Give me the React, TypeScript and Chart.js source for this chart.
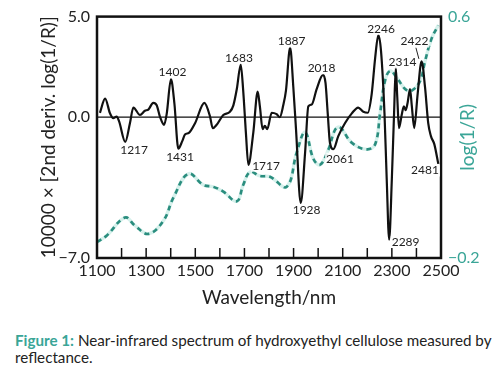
import { useEffect, useRef } from 'react';
import { Chart, registerables } from 'chart.js';
Chart.register(...registerables);

// 2nd derivative spectrum (left axis, ×10000)
const derivNm = [1112, 1133, 1153, 1166, 1180, 1190, 1215, 1234, 1248, 1275, 1295, 1309, 1329, 1343, 1356, 1373, 1384, 1401, 1415, 1431, 1447, 1458, 1474, 1499, 1537, 1560, 1571, 1587, 1614, 1641, 1655, 1669, 1685, 1695, 1706, 1716, 1736, 1754, 1763, 1774, 1783, 1793, 1811, 1831, 1844, 1858, 1869, 1886, 1899, 1910, 1929, 1947, 1960, 1974, 1994, 2020, 2030, 2039, 2048, 2062, 2082, 2109, 2137, 2163, 2184, 2202, 2218, 2232, 2245, 2256, 2270, 2279, 2289, 2300, 2309, 2316, 2322, 2329, 2340, 2349, 2356, 2364, 2374, 2381, 2391, 2405, 2421, 2435, 2448, 2459, 2473, 2489];
const derivVal = [0.22, 0.92, 0.19, -0.05, 0.03, -0.21, -1.23, -0.3, 0.48, 0.11, 0.32, 0.38, 0.71, 0.59, 0.03, -0.38, 0.19, 1.89, 0.68, -1.56, -1.19, -0.86, -0.78, -0.3, 0.71, 0.03, -0.55, -0.38, 0.11, 0.27, 0.59, 1.4, 2.62, 1.32, -0.78, -2.37, -0.78, 1.27, 0.52, -0.59, -0.43, -0.59, 0.22, 0.15, 0.0, 0.59, 1.32, 3.46, 1.49, -0.62, -4.27, -1.75, 0.54, 0.63, 1.4, 2.1, 1.7, 0.19, -1.27, -1.59, -0.94, -0.3, 0.19, 0.48, 0.27, 0.22, 1.16, 2.94, 4.08, 3.27, 0.19, -3.05, -6.09, -3.05, 0.19, 2.46, 1.0, -0.54, 0.11, 0.54, 0.35, 0.71, 1.4, 0.59, -0.54, 1.16, 2.78, 1.49, -0.3, -0.94, -1.35, -2.32];

// log(1/R) spectrum (right axis)
const logNm = [1100, 1139, 1214, 1255, 1309, 1370, 1411, 1472, 1533, 1573, 1614, 1669, 1695, 1723, 1763, 1804, 1872, 1913, 1947, 1981, 2008, 2042, 2069, 2089, 2137, 2198, 2232, 2252, 2272, 2293, 2320, 2354, 2381, 2415, 2435, 2462, 2489];
const logVal = [-0.147, -0.126, -0.066, -0.093, -0.12, -0.077, 0.0, 0.079, 0.042, 0.036, 0.02, -0.012, 0.042, 0.085, 0.072, 0.069, 0.036, 0.15, 0.217, 0.128, 0.109, 0.16, 0.225, 0.233, 0.182, 0.16, 0.177, 0.279, 0.387, 0.42, 0.398, 0.36, 0.355, 0.387, 0.452, 0.528, 0.571];

// tick values
const xTickValues = [1100, 1300, 1500, 1700, 1900, 2100, 2300, 2500];
const leftTickValues = [-7, 0, 5];
const rightTickValues = [-0.2, 0.6];

// peak annotations: text, and text centre in data units (nm, left-axis value)
const peakText = ['1217', '1402', '1431', '1683', '1717', '1887', '1928', '2018', '2061', '2246', '2289', '2314', '2422', '2481'];
const peakNm = [1251, 1407, 1438, 1678, 1788, 1892, 1953, 2014, 2089, 2256, 2356, 2343, 2392, 2435];
const peakY = [-1.66, 2.23, -2.0, 2.96, -2.41, 3.76, -4.64, 2.43, -2.07, 4.39, -6.2, 2.72, 3.76, -2.65];

const FONT = 'Lato, "DejaVu Sans", sans-serif';
const TEAL = '#3aa597';
const TEAL_LINE = '#2a8d7e';

const fmt = (v: number) => {
  const s = Math.abs(v).toFixed(1);
  return v < 0 ? '\u2212' + s : s;
};

const decor = {
  id: 'decor',
  beforeDatasetsDraw(chart: any) {
    const { ctx, chartArea: a, scales } = chart;
    const y0 = scales.y.getPixelForValue(0);
    ctx.save();
    ctx.strokeStyle = '#111';
    ctx.lineWidth = 1.2;
    ctx.beginPath();
    ctx.moveTo(a.left, y0);
    ctx.lineTo(a.right, y0);
    ctx.stroke();
    ctx.restore();
  },
  afterDatasetsDraw(chart: any) {
    const { ctx, chartArea: a, scales } = chart;
    ctx.save();
    // frame
    ctx.strokeStyle = '#111';
    ctx.lineWidth = 2.5;
    ctx.strokeRect(a.left, a.top, a.right - a.left, a.bottom - a.top);
    // inward minor ticks on x axis
    ctx.lineWidth = 1.5;
    for (let v = 1200; v < 2500; v += 100) {
      const px = scales.x.getPixelForValue(v);
      ctx.beginPath();
      ctx.moveTo(px, a.bottom);
      ctx.lineTo(px, a.bottom - 10);
      ctx.stroke();
    }
    // peak labels
    ctx.font = `12px ${FONT}`;
    ctx.textAlign = 'center';
    ctx.textBaseline = 'middle';
    for (let i = 0; i < peakText.length; i++) {
      const px = scales.x.getPixelForValue(peakNm[i]);
      const py = scales.y.getPixelForValue(peakY[i]);
      ctx.fillStyle = 'rgba(255,255,255,0.85)';
      const w = ctx.measureText(peakText[i]).width;
      ctx.fillRect(px - w / 2 - 1, py - 6, w + 2, 12);
      ctx.fillStyle = '#222';
      ctx.fillText(peakText[i], px, py);
    }
    // leader line for 2422
    ctx.lineWidth = 1;
    ctx.strokeStyle = '#222';
    ctx.beginPath();
    ctx.moveTo(scales.x.getPixelForValue(2398), scales.y.getPixelForValue(3.45));
    ctx.lineTo(scales.x.getPixelForValue(2410), scales.y.getPixelForValue(2.9));
    ctx.stroke();
    // axis titles
    const cy = (a.top + a.bottom) / 2;
    ctx.fillStyle = '#222';
    ctx.font = `19px ${FONT}`;
    ctx.textAlign = 'center';
    ctx.textBaseline = 'middle';
    ctx.fillText('Wavelength/nm', (a.left + a.right) / 2, 298);
    ctx.save();
    ctx.translate(49, cy);
    ctx.rotate(-Math.PI / 2);
    ctx.fillText('10000 \u00d7 [2nd deriv. log(1/R)]', 0, 0);
    ctx.restore();
    ctx.save();
    ctx.fillStyle = TEAL;
    ctx.translate(468, cy);
    ctx.rotate(-Math.PI / 2);
    ctx.fillText('log(1/R)', 0, 0);
    ctx.restore();
    ctx.restore();
  },
};

export default function App() {
  const ref = useRef<HTMLCanvasElement>(null);
  useEffect(() => {
    if (!ref.current) return;
    const chart = new Chart(ref.current, {
      type: 'line',
      data: {
        datasets: [
          {
            data: derivNm.map((x, i) => ({ x, y: derivVal[i] })),
            yAxisID: 'y',
            borderColor: '#111',
            borderWidth: 2.2,
            pointRadius: 0,
            cubicInterpolationMode: 'monotone',
            fill: false,
          },
          {
            data: logNm.map((x, i) => ({ x, y: logVal[i] })),
            yAxisID: 'y2',
            borderColor: TEAL_LINE,
            borderWidth: 2.6,
            borderDash: [5, 4],
            pointRadius: 0,
            tension: 0.4,
            fill: false,
          },
          {
            data: logNm.map((x, i) => ({ x, y: logVal[i] })),
            yAxisID: 'y2',
            borderColor: '#d6f1ec',
            borderWidth: 3.4,
            pointRadius: 0,
            tension: 0.4,
            fill: false,
          },
        ],
      },
      options: {
        animation: false,
        responsive: false,
        devicePixelRatio: 1,
        layout: { padding: { left: 0, right: 0, top: 11, bottom: 0 } },
        plugins: { legend: { display: false }, tooltip: { enabled: false } },
        scales: {
          x: {
            type: 'linear',
            min: 1100,
            max: 2500,
            afterBuildTicks: (s: any) => { s.ticks = xTickValues.map((value) => ({ value })); },
            afterFit: (s: any) => { s.height = 52; },
            grid: { display: false, drawTicks: false },
            border: { display: false },
            ticks: { color: '#222', padding: 3, maxRotation: 0, autoSkip: false, callback: (v: any) => String(v), font: { family: FONT, size: 16 } },
          },
          y: {
            position: 'left',
            min: -7,
            max: 5,
            afterBuildTicks: (s: any) => { s.ticks = leftTickValues.map((value) => ({ value })); },
            afterFit: (s: any) => { s.width = 97; },
            grid: { display: false, drawTicks: false },
            border: { display: false },
            ticks: { color: '#222', padding: 7, callback: (v: any) => fmt(Number(v)), font: { family: FONT, size: 16 } },
          },
          y2: {
            position: 'right',
            min: -0.2,
            max: 0.6,
            afterBuildTicks: (s: any) => { s.ticks = rightTickValues.map((value) => ({ value })); },
            afterFit: (s: any) => { s.width = 60; },
            grid: { display: false, drawTicks: false },
            border: { display: false },
            ticks: { color: TEAL, padding: 7, callback: (v: any) => fmt(Number(v)), font: { family: FONT, size: 16 } },
          },
        },
      },
      plugins: [decor],
    } as any);
    return () => chart.destroy();
  }, []);
  return (
    <div style={{ position: 'fixed', left: 0, top: 0, width: 501, height: 371, background: '#fff', overflow: 'hidden' }}>
      <canvas ref={ref} width={501} height={310} style={{ display: 'block', width: 501, height: 310 }} />
      <div style={{ position: 'absolute', left: 15, top: 332, fontFamily: FONT, fontSize: 15.2, lineHeight: '17px', color: '#222', whiteSpace: 'nowrap' }}>
        <span style={{ color: TEAL, fontWeight: 700 }}>Figure 1:</span> Near-infrared spectrum of hydroxyethyl cellulose measured by
        <br />
        reflectance.
      </div>
    </div>
  );
}
